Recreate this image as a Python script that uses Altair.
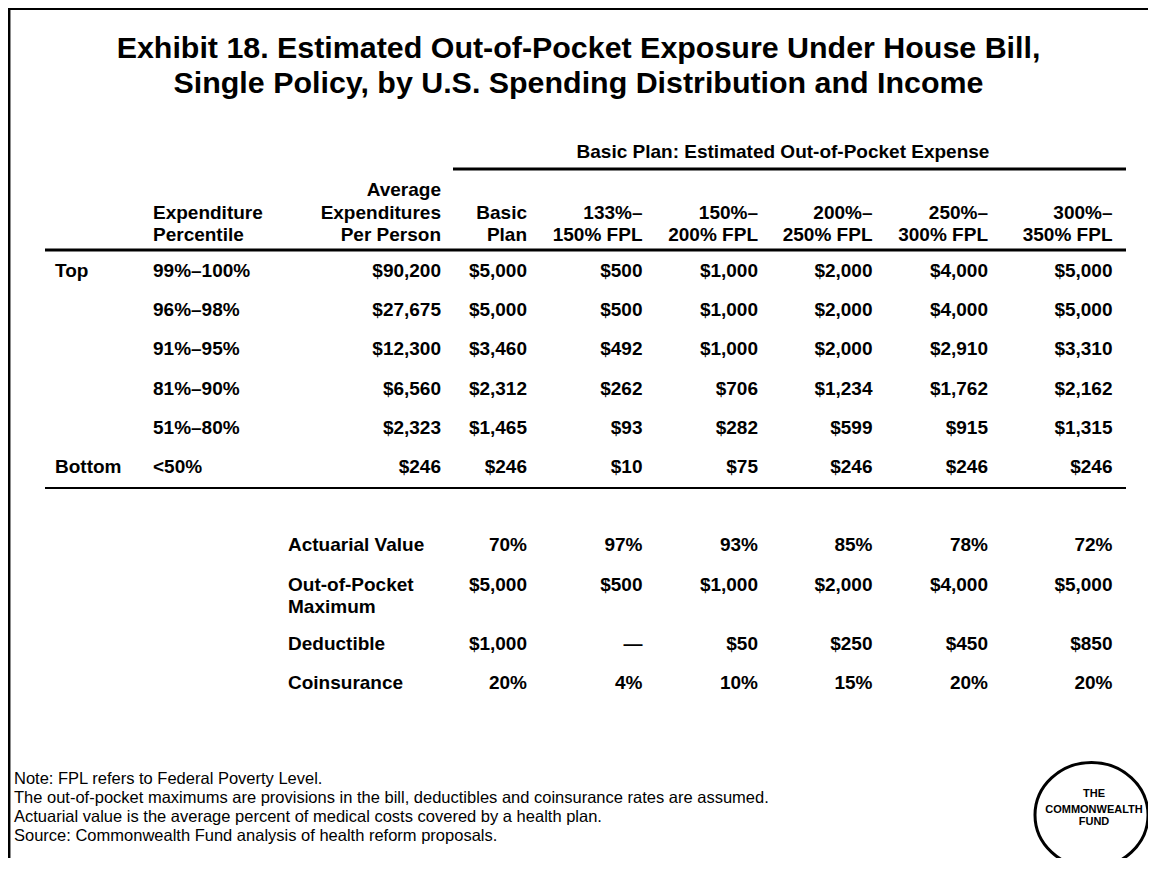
import altair as alt
import pandas as pd

# ---------------- data ----------------
title_lines = ["Exhibit 18. Estimated Out-of-Pocket Exposure Under House Bill,",
               "Single Policy, by U.S. Spending Distribution and Income"]
banner = "Basic Plan: Estimated Out-of-Pocket Expense"

groups = ["Top", "", "", "", "", "Bottom"]
percentiles = ["99%–100%", "96%–98%", "91%–95%", "81%–90%", "51%–80%", "<50%"]
avg_exp = [90200, 27675, 12300, 6560, 2323, 246]
basic_plan = [5000, 5000, 3460, 2312, 1465, 246]
fpl_133_150 = [500, 500, 492, 262, 93, 10]
fpl_150_200 = [1000, 1000, 1000, 706, 282, 75]
fpl_200_250 = [2000, 2000, 2000, 1234, 599, 246]
fpl_250_300 = [4000, 4000, 2910, 1762, 915, 246]
fpl_300_350 = [5000, 5000, 3310, 2162, 1315, 246]

plan_keys = ["basic", "f133", "f150", "f200", "f250", "f300"]
plan_header_1 = ["Basic", "133%–", "150%–", "200%–", "250%–", "300%–"]
plan_header_2 = ["Plan", "150% FPL", "200% FPL", "250% FPL", "300% FPL", "350% FPL"]

sub_labels = ["Actuarial Value", "Out-of-Pocket", "Deductible", "Coinsurance"]
actuarial_value = [70, 97, 93, 85, 78, 72]
oop_maximum = [5000, 500, 1000, 2000, 4000, 5000]
deductible = [1000, None, 50, 250, 450, 850]
coinsurance = [20, 4, 10, 15, 20, 20]

notes = ["Note: FPL refers to Federal Poverty Level.",
         "The out-of-pocket maximums are provisions in the bill, deductibles and coinsurance rates are assumed.",
         "Actuarial value is the average percent of medical costs covered by a health plan.",
         "Source: Commonwealth Fund analysis of health reform proposals."]
logo_lines = ["THE", "COMMONWEALTH", "FUND"]

# ---------------- layout scales ----------------
col_order = ["group", "pct", "sublabel", "avg", "basic", "f133", "f150", "f200", "f250", "f300"]
col_pos = [47, 145, 280, 433, 519, 634.5, 750, 864.5, 980, 1104.5]

row_order = ["t1", "t2", "banner", "h0", "h1", "h2", "r0", "r1", "r2", "r3", "r4", "r5",
             "s0", "s1", "s1b", "s2", "s3", "n0", "n1", "n2", "n3", "l0", "l1", "l2"]
row_pos = [50.4, 84.7, 149.8, 187.8, 210.8, 232.8, 268.8, 307.8, 346.8, 386.8, 425.8, 464.8,
           542.8, 582.8, 604.8, 641.8, 680.8, 775.7, 794.7, 813.7, 832.7, 789.4, 805.4, 817.4]

xs = alt.Scale(domain=list(range(len(col_order))), range=col_pos, nice=False, zero=False)
ys = alt.Scale(domain=list(range(len(row_order))), range=row_pos, nice=False, zero=False)

FONT = "Liberation Sans"


def money(v):
    return "—" if v is None else "${:,.0f}".format(v)


def pct(v):
    return "{}%".format(v)


left_cells, right_cells = [], []
# header
left_cells += [("pct", "h1", "Expenditure"), ("pct", "h2", "Percentile")]
right_cells += [("avg", "h0", "Average"), ("avg", "h1", "Expenditures"), ("avg", "h2", "Per Person")]
for k, a, b in zip(plan_keys, plan_header_1, plan_header_2):
    right_cells += [(k, "h1", a), (k, "h2", b)]
# body
plan_series = [basic_plan, fpl_133_150, fpl_150_200, fpl_200_250, fpl_250_300, fpl_300_350]
for i in range(6):
    r = "r%d" % i
    if groups[i]:
        left_cells.append(("group", r, groups[i]))
    left_cells.append(("pct", r, percentiles[i]))
    right_cells.append(("avg", r, money(avg_exp[i])))
    for k, s in zip(plan_keys, plan_series):
        right_cells.append((k, r, money(s[i])))
# sub table
left_cells += [("sublabel", "s0", sub_labels[0]), ("sublabel", "s1", sub_labels[1]),
               ("sublabel", "s1b", "Maximum"), ("sublabel", "s2", sub_labels[2]),
               ("sublabel", "s3", sub_labels[3])]
for j, k in enumerate(plan_keys):
    right_cells += [(k, "s0", pct(actuarial_value[j])), (k, "s1", money(oop_maximum[j])),
                    (k, "s2", money(deductible[j])), (k, "s3", pct(coinsurance[j]))]


def frame(cells):
    return pd.DataFrame([{"ci": col_order.index(c), "ri": row_order.index(r), "text": t}
                         for c, r, t in cells])


X = alt.X("ci:Q", scale=xs, axis=None)
Y = alt.Y("ri:Q", scale=ys, axis=None)

left_layer = alt.Chart(frame(left_cells)).mark_text(
    align="left", baseline="alphabetic", font=FONT, fontSize=19, fontWeight="bold", color="black"
).encode(x=X, y=Y, text="text:N")

right_layer = alt.Chart(frame(right_cells)).mark_text(
    align="right", baseline="alphabetic", font=FONT, fontSize=19, fontWeight="bold", color="black"
).encode(x=X, y=Y, text="text:N")

title_df = pd.DataFrame({"ri": [row_order.index("t1"), row_order.index("t2")], "text": title_lines})
title_layer = alt.Chart(title_df).mark_text(
    align="center", baseline="alphabetic", font=FONT, fontSize=30.4, fontWeight="bold", color="black"
).encode(x=alt.value(570.5), y=Y, text="text:N")

banner_df = pd.DataFrame({"ri": [row_order.index("banner")], "text": [banner]})
banner_layer = alt.Chart(banner_df).mark_text(
    align="center", baseline="alphabetic", font=FONT, fontSize=19, fontWeight="bold", color="black"
).encode(x=alt.value(775), y=Y, text="text:N")

notes_df = pd.DataFrame({"ri": [row_order.index("n%d" % i) for i in range(4)], "text": notes})
notes_layer = alt.Chart(notes_df).mark_text(
    align="left", baseline="alphabetic", font=FONT, fontSize=16.5, color="black"
).encode(x=alt.value(6), y=Y, text="text:N")

logo_df = pd.DataFrame({"ri": [row_order.index("l%d" % i) for i in range(3)], "text": logo_lines})
logo_text = alt.Chart(logo_df).mark_text(
    align="center", baseline="alphabetic", font=FONT, fontSize=11, fontWeight="bold", color="black"
).encode(x=alt.value(1086), y=Y, text="text:N")

ellipse = "M -1 0 A 1 0.93 0 1 1 1 0 A 1 0.93 0 1 1 -1 0 Z"
logo_ring = alt.Chart(pd.DataFrame({"k": [0]})).mark_point(
    shape=ellipse, size=12769, filled=False, stroke="black", strokeWidth=3, opacity=1
).encode(x=alt.value(1083.5), y=alt.value(807))


def rule(x1, x2, y, w):
    return alt.Chart(pd.DataFrame({"k": [0]})).mark_rule(color="black", strokeWidth=w).encode(
        x=alt.value(x1), x2=alt.value(x2), y=alt.value(y))


def vrule(x, y1, y2, w):
    return alt.Chart(pd.DataFrame({"k": [0]})).mark_rule(color="black", strokeWidth=w).encode(
        x=alt.value(x), y=alt.value(y1), y2=alt.value(y2))


lines = [
    rule(0, 1140, 0.8, 2.5),      # frame top
    vrule(1.2, 0, 855, 2.5),      # frame left
    rule(445, 1118, 161, 3),      # banner underline
    rule(37, 1118, 242, 3),       # header line
    rule(37, 1118, 480, 2),       # bottom line
]

chart = alt.layer(*lines, title_layer, banner_layer, left_layer, right_layer,
                  notes_layer, logo_ring, logo_text).properties(
    width=1140, height=850, padding=0, autosize="none", background="white"
).configure_view(stroke=None)

chart.save("out.html", embed_options={"renderer": "svg", "actions": False})
